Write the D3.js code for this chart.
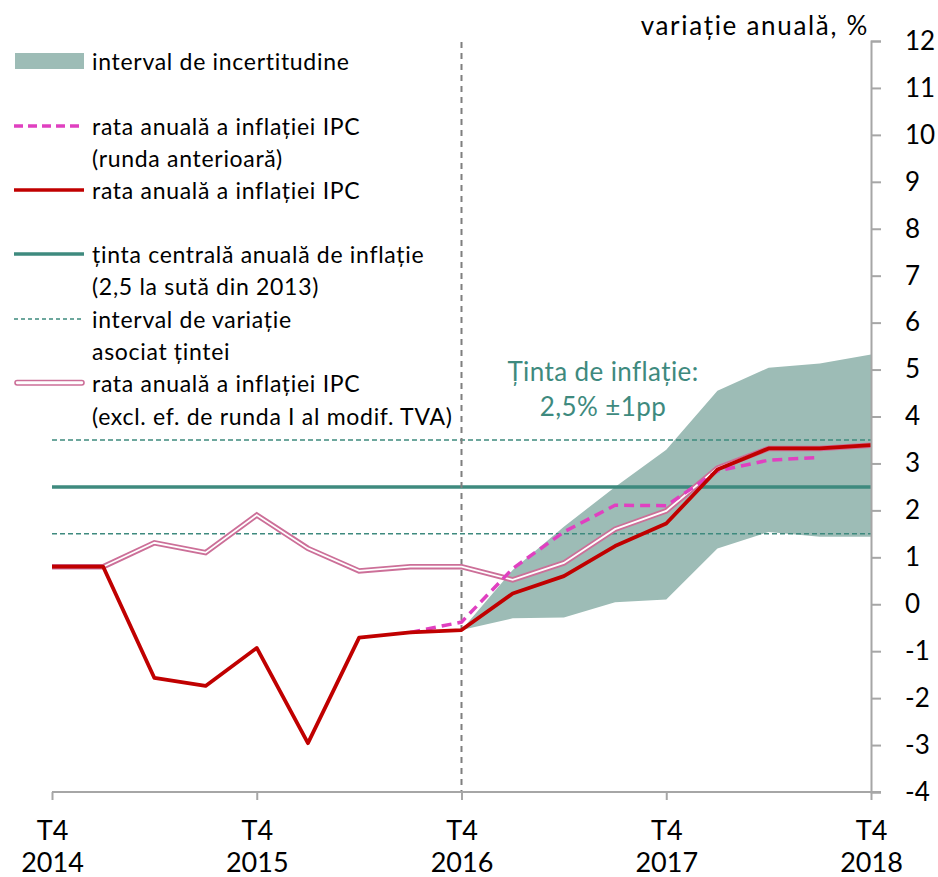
<!DOCTYPE html>
<html>
<head>
<meta charset="utf-8">
<script src="https://cdn.jsdelivr.net/npm/d3@7"></script>
<style>
    body { margin: 0; background: #fff; }
    svg text { font-family: Lato, "Open Sans", sans-serif; fill: #000; }
</style>
</head>
<body>
<svg id="chart" width="938" height="877"></svg>
<script>
// trimestre: 0 = T4 2014 ... 16 = T4 2018
const quarters = d3.range(0, 17);
const xTicks = [0, 4, 8, 12, 16];
const xTickLabels = [["T4", "2014"], ["T4", "2015"], ["T4", "2016"], ["T4", "2017"], ["T4", "2018"]];
const yTicks = d3.range(-4, 13);

// rata anuală a inflației IPC
const cpi = [0.8, 0.8, -1.57, -1.74, -0.93, -2.96, -0.71, -0.6, -0.55, 0.23, 0.6, 1.24, 1.72, 2.87, 3.32, 3.32, 3.39];
// runda anterioară (de la T3 2016 la T3 2018)
const cpiPrevStart = 7;
const cpiPrev = [-0.6, -0.38, 0.76, 1.54, 2.11, 2.1, 2.84, 3.07, 3.13];
// excl. efectul de runda I al modificării TVA
const cpiExVat = [0.8, 0.8, 1.31, 1.1, 1.9, 1.19, 0.71, 0.8, 0.8, 0.52, 0.88, 1.6, 1.99, 2.9, 3.32, 3.32, 3.39];
// interval de incertitudine (de la T4 2016)
const bandStart = 8;
const bandUpper = [-0.55, 0.73, 1.65, 2.5, 3.29, 4.55, 5.04, 5.13, 5.32];
const bandLower = [-0.55, -0.3, -0.28, 0.04, 0.1, 1.19, 1.54, 1.44, 1.44];
// ținta și intervalul de variație
const target = 2.5;
const targetBand = [1.5, 3.5];
const forecastStart = 8;

const svg = d3.select("#chart");
const x = d3.scaleLinear().domain([0, 16]).range([52, 871]);
const y = d3.scaleLinear().domain([-4, 12]).range([792, 41]);

const teal = "#3e8a7e";
const axisGrey = "#a6a6a6";

// interval de incertitudine
const bandData = bandUpper.map((u, i) => ({ q: bandStart + i, lo: bandLower[i], hi: u }));
svg.append("path")
    .datum(bandData)
    .attr("fill", "#9dbcb6")
    .attr("d", d3.area().x(d => x(d.q)).y0(d => y(d.lo)).y1(d => y(d.hi)));

// ținta
svg.append("line")
    .attr("x1", x(0)).attr("x2", x(16))
    .attr("y1", y(target)).attr("y2", y(target))
    .attr("stroke", teal).attr("stroke-width", 3.5);

svg.selectAll(".tband")
    .data(targetBand)
    .enter()
    .append("line")
    .attr("x1", x(0)).attr("x2", x(16))
    .attr("y1", d => y(d)).attr("y2", d => y(d))
    .attr("stroke", teal).attr("stroke-width", 1.5)
    .attr("stroke-dasharray", "5,3");

// linie verticală la începutul prognozei
svg.append("line")
    .attr("x1", x(forecastStart)).attr("x2", x(forecastStart))
    .attr("y1", 42).attr("y2", y(-4))
    .attr("stroke", "#7f7f7f").attr("stroke-width", 2)
    .attr("stroke-dasharray", "6,5");

const line = d3.line().x(d => x(d.q)).y(d => y(d.v));

// IPC excl. TVA - linie dublă
const exVatData = cpiExVat.map((v, i) => ({ q: quarters[i], v: v }));
svg.append("path").datum(exVatData)
    .attr("fill", "none").attr("stroke", "#cc6f98").attr("stroke-width", 5.5)
    .attr("d", line);
svg.append("path").datum(exVatData)
    .attr("fill", "none").attr("stroke", "#fff").attr("stroke-width", 1.8)
    .attr("d", line);

// runda anterioară
svg.append("path")
    .datum(cpiPrev.map((v, i) => ({ q: cpiPrevStart + i, v: v })))
    .attr("fill", "none").attr("stroke", "#e040c0").attr("stroke-width", 3.5)
    .attr("stroke-dasharray", "10,6")
    .attr("d", line);

// IPC
svg.append("path")
    .datum(cpi.map((v, i) => ({ q: quarters[i], v: v })))
    .attr("fill", "none").attr("stroke", "#c00000").attr("stroke-width", 3.8)
    .attr("stroke-linejoin", "round")
    .attr("d", line);

// axa Y (dreapta)
const yAxis = svg.append("g")
    .attr("transform", `translate(${x(16)},0)`)
    .call(d3.axisRight(y).tickValues(yTicks).tickSize(10).tickPadding(24).tickFormat(d => String(d)));
yAxis.selectAll("path, line").attr("stroke", axisGrey).attr("stroke-width", 2);
yAxis.selectAll("text").attr("font-size", 26).attr("font-family", "Lato, sans-serif");

// axa X
const xAxis = svg.append("g")
    .attr("transform", `translate(0,${y(-4)})`)
    .call(d3.axisBottom(x).tickValues(xTicks).tickSize(8).tickFormat(""));
xAxis.select(".domain").remove();
xAxis.selectAll("line").attr("stroke", axisGrey).attr("stroke-width", 2);
xAxis.append("line")
    .attr("x1", x(0)).attr("x2", x(16) + 10)
    .attr("stroke", axisGrey).attr("stroke-width", 2);
xAxis.selectAll(".tick")
    .each(function (d, i) {
        const t = d3.select(this).append("text")
            .attr("text-anchor", "middle")
            .attr("font-size", 27)
            .attr("fill", "#000");
        t.append("tspan").attr("x", 0).attr("y", 48).text(xTickLabels[i][0]);
        t.append("tspan").attr("x", 0).attr("y", 80).text(xTickLabels[i][1]);
    });

// titlu axă
svg.append("text")
    .attr("x", 869).attr("y", 35)
    .attr("text-anchor", "end")
    .attr("font-size", 26)
    .attr("letter-spacing", 1.7)
    .text("variație anuală, %");

// adnotare ținta
const note = svg.append("text")
    .attr("text-anchor", "middle")
    .attr("font-size", 26)
    .attr("letter-spacing", 0.4)
    .style("fill", teal);
note.append("tspan").attr("x", 603).attr("y", 381).text("Ținta de inflație:");
note.append("tspan").attr("x", 603).attr("y", 416).text("2,5% ±1pp");

// legenda
const legend = svg.append("g");
const lx0 = 14, lx1 = 84, tx = 92;
legend.append("rect")
    .attr("x", 15).attr("y", 53).attr("width", 69).attr("height", 16)
    .attr("fill", "#9dbcb6");
legend.append("line").attr("x1", lx0).attr("x2", lx1).attr("y1", 126).attr("y2", 126)
    .attr("stroke", "#e040c0").attr("stroke-width", 3.5).attr("stroke-dasharray", "9,5");
legend.append("line").attr("x1", lx0).attr("x2", lx1).attr("y1", 190).attr("y2", 190)
    .attr("stroke", "#c00000").attr("stroke-width", 3.5);
legend.append("line").attr("x1", lx0).attr("x2", lx1).attr("y1", 254).attr("y2", 254)
    .attr("stroke", teal).attr("stroke-width", 3.5);
legend.append("line").attr("x1", lx0).attr("x2", lx1).attr("y1", 319).attr("y2", 319)
    .attr("stroke", teal).attr("stroke-width", 1.5).attr("stroke-dasharray", "4,3");
legend.append("rect")
    .attr("x", 15).attr("y", 380.5).attr("width", 69).attr("height", 4.5).attr("rx", 2.2)
    .attr("fill", "#fff").attr("stroke", "#cc6f98").attr("stroke-width", 1.6);

const legendLines = [
    ["interval de incertitudine", 62],
    ["rata anuală a inflației IPC", 127],
    ["(runda anterioară)", 159],
    ["rata anuală a inflației IPC", 191],
    ["ținta centrală anuală de inflație", 255],
    ["(2,5 la sută din 2013)", 287],
    ["interval de variație", 320],
    ["asociat țintei", 352],
    ["rata anuală a inflației IPC", 384],
    ["(excl. ef. de runda I al modif. TVA)", 417]
];
legend.selectAll(".ltext")
    .data(legendLines)
    .enter()
    .append("text")
    .attr("x", tx)
    .attr("y", d => d[1] + 8)
    .attr("font-size", 23)
    .attr("letter-spacing", 0.7)
    .text(d => d[0]);
</script>
</body>
</html>
